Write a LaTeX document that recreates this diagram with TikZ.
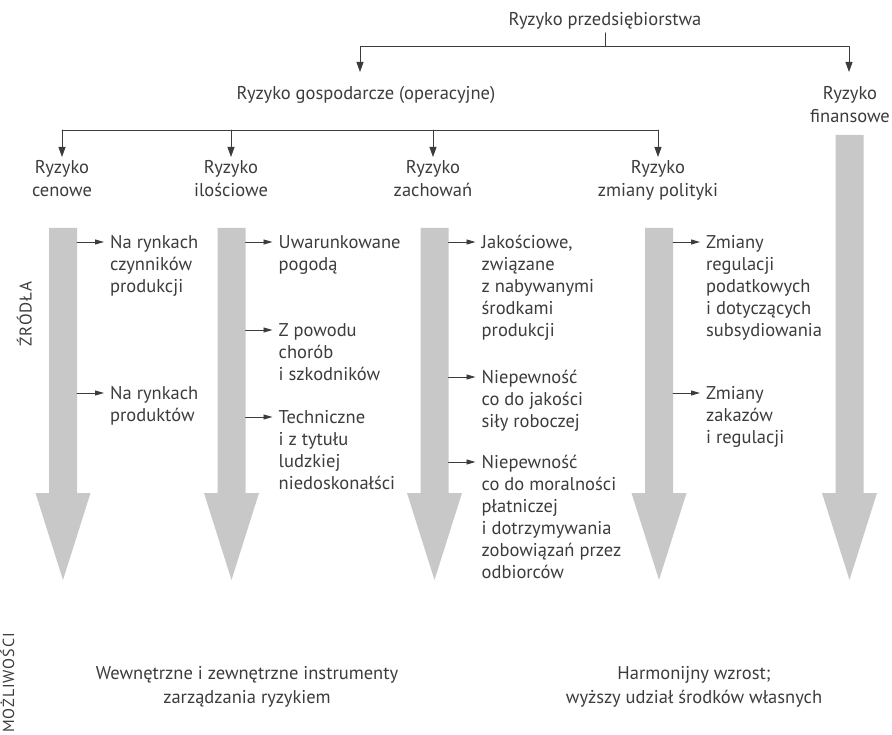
\documentclass[tikz,border=0pt]{standalone}
\usepackage{fontspec}
\setmainfont{PT Sans}
\newfontfamily\capsfont[LetterSpace=6]{PT Sans}
\usepackage{tikz}
\usetikzlibrary{arrows.meta}
\definecolor{ink}{HTML}{3C3C3C}
\definecolor{bargray}{HTML}{C8C8C8}

\begin{document}
\begin{tikzpicture}[x=1pt, y=-1pt, line cap=round, line join=round,
    tree/.style={draw=ink, line width=0.9pt},
    treearrow/.style={tree, -{Triangle[length=10pt,width=7pt]}},
    small/.style={draw=ink, line width=0.9pt, -{Triangle[length=9pt,width=5pt]}},
    label/.style={anchor=north, align=center, inner sep=0pt, text=ink,
        font=\fontsize{18.5}{23}\selectfont},
    item/.style={anchor=north west, align=left, inner sep=0pt, text=ink,
        font=\fontsize{18.5}{22}\selectfont},
    caption/.style={rotate=90, inner sep=0pt, text=ink,
        font=\capsfont\fontsize{17}{19}\selectfont}]
            % page
             \useasboundingbox (0,0) rectangle (892,735);
             % risk tree
             \node[label] (ent)  at (605,9.4)    {\strut Ryzyko przedsiębiorstwa};
             \node[label] (oper) at (366,83.4)   {\strut Ryzyko gospodarcze (operacyjne)};
             \node[label] (fin)  at (850,83.4)   {\strut Ryzyko\\finansowe};
             \node[label] (cen)  at (62,157.4)   {\strut Ryzyko\\cenowe};
             \node[label] (ilo)  at (231,157.4)  {\strut Ryzyko\\ilościowe};
             \node[label] (zach) at (433,157.4)  {\strut Ryzyko\\zachowań};
             \node[label] (pol)  at (658,157.4)  {\strut Ryzyko\\zmiany polityki};
             \coordinate (j1) at (605,46);
             \coordinate (j2) at (0,130);
             \draw[tree] (ent.south) -- (j1);
             \draw[treearrow] (j1) -| ([xshift=-6pt,yshift=11.4pt]oper.north);
             \draw[treearrow] (j1) -| ([xshift=-1pt,yshift=11.4pt]fin.north);
             \draw[tree] (cen.north |- j2) -- (pol.north |- j2);
             \foreach \n in {cen,ilo,zach,pol}
               \draw[treearrow] (\n.north |- j2) -- ([yshift=0.4pt]\n.north);
             % grey arrows
             \foreach \cx/\top/\k in {63/228/1, 231.5/228/2, 434.5/228/3, 659/228/4, 849.5/135/5} {
               \fill[bargray] (\cx-14,\top) -- (\cx+14,\top) -- (\cx+14,493) -- (\cx+27.5,493)
                 -- (\cx,580) -- (\cx-27.5,493) -- (\cx-14,493) -- cycle;
               \coordinate (b\k) at (\cx+14,\top);
             }
             % sources
             \foreach \b/\ay/\txt [count=\i] in {
                 b1/242/{Na rynkach\\czynników\\produkcji},
                 b1/393/{Na rynkach\\produktów},
                 b2/242/{Uwarunkowane\\pogodą},
                 b2/330/{Z powodu\\chorób\\i szkodników},
                 b2/417/{Techniczne\\i z tytułu\\ludzkiej\\niedoskonałści},
                 b3/242/{Jakościowe,\\związane\\z nabywanymi\\środkami\\produkcji},
                 b3/377/{Niepewność\\co do jakości\\siły roboczej},
                 b3/462/{Niepewność\\co do moralności\\płatniczej\\i dotrzymywania\\zobowiązań przez\\odbiorców},
                 b4/242/{Zmiany\\regulacji\\podatkowych\\i dotyczących\\subsydiowania},
                 b4/393/{Zmiany\\zakazów\\i regulacji}} {
               \coordinate (s\i) at (\b |- 0,\ay);
               \coordinate (e\i) at ([xshift=27pt]s\i);
               \node[item] (it\i) at ([xshift=6pt,yshift=8.9pt]e\i) {\strut\txt};
               \draw[small] (s\i) -- (e\i);
             }
             % side captions
             \node[caption, anchor=mid] (src) at (29,314) {ŹRÓDŁA};
             \node[caption, anchor=mid west, font=\capsfont\fontsize{16}{18}\selectfont]
               (opt) at (11.5,733) {MOŻLIWOŚCI};
             % possibilities
             \node[label, font=\fontsize{18.5}{24}\selectfont] (tools)  at (247,662.7)
               {\strut Wewnętrzne i zewnętrzne instrumenty\\zarządzania ryzykiem};
             \node[label, font=\fontsize{18.5}{24}\selectfont] (growth) at (694,662.7)
               {\strut Harmonijny wzrost;\\wyższy udział środków własnych};
     \end{tikzpicture}
\end{document}
